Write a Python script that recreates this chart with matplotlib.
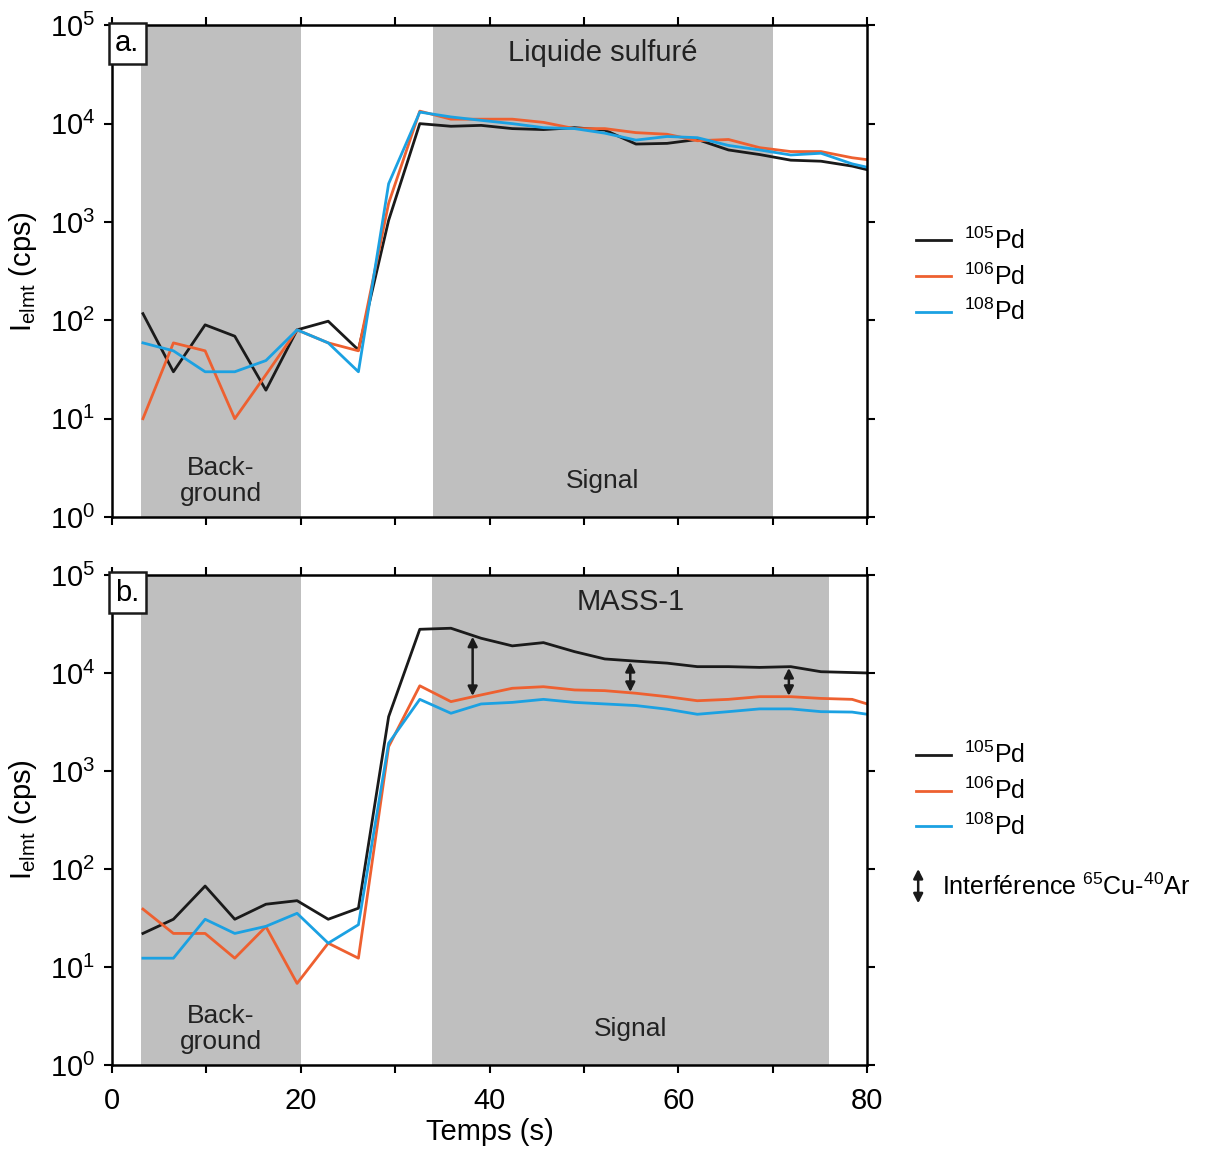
import numpy as np
import matplotlib
matplotlib.use("Agg")
import matplotlib.pyplot as plt
from matplotlib.ticker import LogLocator, MultipleLocator, NullFormatter

plt.rcParams["font.family"] = ["Liberation Sans", "DejaVu Sans"]
plt.rcParams["mathtext.fontset"] = "custom"
plt.rcParams["mathtext.rm"] = "Liberation Sans"
plt.rcParams["mathtext.it"] = "Liberation Sans:italic"
plt.rcParams["mathtext.bf"] = "Liberation Sans:bold"

# time of each acquisition (s)
t = [3.27, 6.5, 9.86, 13.0, 16.3, 19.6, 22.9, 26.1, 29.3, 32.6, 35.9, 39.1,
     42.4, 45.7, 49.0, 52.2, 55.5, 58.8, 62.0, 65.3, 68.6, 71.9, 75.1, 78.4, 80.0]

# a. Liquide sulfuré
a_pd105 = [117, 30, 90, 69, 19.5, 80, 98, 50, 1040, 10000, 9400, 9600, 8900, 8700,
           9100, 8600, 6200, 6300, 6900, 5400, 4850, 4250, 4150, 3700, 3400]
a_pd106 = [10, 59, 49, 10, 28, 80, 59, 49, 1550, 13400, 11100, 11100, 11100, 10300,
           8900, 8900, 8100, 7800, 6700, 6900, 5700, 5200, 5200, 4500, 4300]
a_pd108 = [59, 49, 30, 30, 39, 80, 59, 30, 2450, 13100, 11700, 10800, 10000, 9100,
           8900, 8000, 6800, 7400, 7200, 6000, 5400, 4800, 5000, 3900, 3600]

# b. MASS-1
b_pd105 = [22, 30.7, 67, 30.7, 43.7, 47.5, 30.7, 39.8, 3580, 27900, 28600, 22600, 18900,
           20400, 16500, 13900, 13200, 12600, 11600, 11600, 11400, 11600, 10300, 10100, 10000]
b_pd106 = [39, 22, 22, 12.3, 25.8, 6.8, 17.5, 12.3, 1770, 7400, 5100, 5970, 6980,
           7240, 6710, 6600, 6210, 5730, 5210, 5380, 5730, 5730, 5500, 5380, 4830]
b_pd108 = [12.3, 12.3, 30.7, 22, 26, 35.3, 17.5, 27, 1920, 5380, 3880, 4830, 5010,
           5380, 5010, 4830, 4650, 4270, 3790, 4030, 4300, 4300, 4030, 3990, 3790]

# background / signal windows (s)
a_background = (3.1, 20.0)
a_signal = (34.0, 70.0)
b_background = (3.1, 20.0)
b_signal = (33.9, 76.0)

# positions of the 65Cu-40Ar interference arrows (s)
arrow_t = [38.2, 54.9, 71.7]

labels = ["$^{105}$Pd", "$^{106}$Pd", "$^{108}$Pd"]
colors = ["#1a1a1a", "#ee6030", "#1ba1e2"]
GRAY = "#bfbfbf"
ARROW = "<|-|>,head_length=0.55,head_width=0.28"

fig = plt.figure(figsize=(12.18, 11.49), dpi=100)
ax_a = fig.add_axes([0.092, 0.550, 0.620, 0.428])
ax_b = fig.add_axes([0.092, 0.0731, 0.620, 0.4265])


def setup_panel(ax, series, background, signal, title, letter, show_x, leg_y):
    ax.axvspan(*background, color=GRAY, lw=0, zorder=0)
    ax.axvspan(*signal, color=GRAY, lw=0, zorder=0)
    handles = []
    for y, lab, c in zip(series, labels, colors):
        h, = ax.plot(t, y, color=c, lw=2.0, label=lab, zorder=3)
        handles.append(h)

    ax.set_yscale("log")
    ax.set_xlim(0, 80)
    ax.set_ylim(1, 1e5)
    ax.yaxis.set_major_locator(LogLocator(base=10, numticks=10))
    ax.yaxis.set_minor_locator(LogLocator(base=10, subs=[], numticks=10))
    ax.xaxis.set_major_locator(MultipleLocator(20))
    ax.xaxis.set_minor_locator(MultipleLocator(10))
    ax.tick_params(which="both", direction="out", length=6, width=1.5,
                   top=True, right=True, labelsize=21, pad=10)
    ax.tick_params(axis="y", labelright=False, pad=6)
    if not show_x:
        ax.xaxis.set_major_formatter(NullFormatter())
    for s in ax.spines.values():
        s.set_linewidth(1.8)
        s.set_zorder(5)

    ax.set_ylabel("I$_{\\mathrm{elmt}}$ (cps)", fontsize=21, labelpad=8)

    ax.text(sum(signal) / 2, 10 ** 4.72, title, ha="center", va="center",
            fontsize=21, color="#222222", zorder=4)
    ax.text(sum(background) / 2, 10 ** 0.37, "Back-\nground", ha="center",
            va="center", fontsize=19, linespacing=1.1, color="#222222", zorder=4)
    ax.text(sum(signal) / 2, 10 ** 0.37, "Signal", ha="center", va="center",
            fontsize=19, color="#222222", zorder=4)
    ax.text(0.004, 0.992, letter, transform=ax.transAxes, ha="left", va="top",
            fontsize=21, zorder=6,
            bbox=dict(boxstyle="square,pad=0.22", fc="white", ec="#1a1a1a", lw=1.8))

    leg = ax.legend(handles=handles, loc="upper left", bbox_to_anchor=(1.035, leg_y),
                    frameon=False, fontsize=18, handlelength=1.4, handletextpad=0.5,
                    labelspacing=0.38)
    return leg


setup_panel(ax_a, [a_pd105, a_pd106, a_pd108], a_background, a_signal,
            "Liquide sulfuré", "a.", False, 0.635)
setup_panel(ax_b, [b_pd105, b_pd106, b_pd108], b_background, b_signal,
            "MASS-1", "b.", True, 0.705)
ax_b.set_xlabel("Temps (s)", fontsize=21, labelpad=2)

# interference arrows between 105Pd and 106Pd
log105 = np.log10(b_pd105)
log106 = np.log10(b_pd106)
for ta in arrow_t:
    top = 10 ** np.interp(ta, t, log105)
    bot = 10 ** np.interp(ta, t, log106)
    ax_b.annotate("", xy=(ta, top * 0.97), xytext=(ta, bot * 1.02),
                  arrowprops=dict(arrowstyle=ARROW, color="#1a1a1a", lw=1.8,
                                  shrinkA=0, shrinkB=0),
                  zorder=4)

ax_b.annotate("", xy=(1.0675, 0.400), xytext=(1.0675, 0.330),
              xycoords="axes fraction", textcoords="axes fraction",
              arrowprops=dict(arrowstyle=ARROW, color="#1a1a1a", lw=1.8,
                              shrinkA=0, shrinkB=0),
              annotation_clip=False)
ax_b.text(1.099, 0.364, "Interférence $^{65}$Cu-$^{40}$Ar", transform=ax_b.transAxes,
          ha="left", va="center", fontsize=18)

fig.savefig("out.png", dpi=100)
